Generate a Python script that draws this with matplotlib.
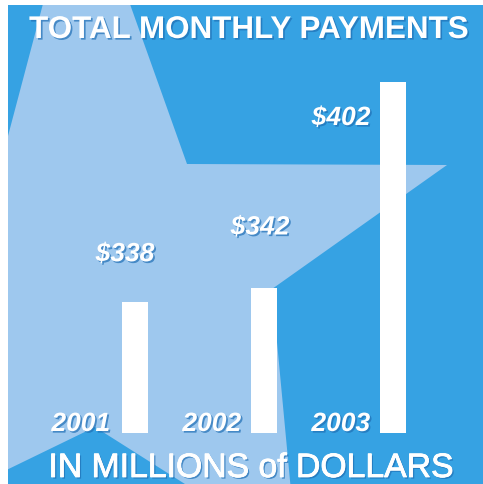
import matplotlib
matplotlib.use("Agg")
import matplotlib.pyplot as plt
import matplotlib.patheffects as pe
from matplotlib.patches import Polygon

# data
years = ["2001", "2002", "2003"]
payments = [338, 342, 402]          # millions of dollars
value_labels = ["$338", "$342", "$402"]
base = 300                          # bars start from this value

# colours
DARK = "#36a2e3"
LIGHT = "#9ec8ee"
SHADOW = "#1f6fb5"

W, H = 483, 485
plt.rcParams["font.family"] = ["Liberation Sans", "DejaVu Sans"]

fig = plt.figure(figsize=(W / 100, H / 100), dpi=100, facecolor="white")

# background panel with the big star, in pixel coordinates
bg = fig.add_axes([8 / W, 0, (W - 8) / W, (H - 6) / H])
bg.set_xlim(8, W)
bg.set_ylim(H, 6)
bg.set_facecolor(DARK)
bg.set_xticks([])
bg.set_yticks([])
for s in bg.spines.values():
    s.set_visible(False)

star_pts = [(80, -135), (187, 165), (447, 166), (272, 290), (297, 556),
            (95, 428), (-10, 479), (-10, 205)]
bg.add_patch(Polygon(star_pts, closed=True, facecolor=LIGHT, edgecolor="none"))

# bar panel
ax = fig.add_axes([8 / W, (H - 434) / H, (W - 8) / W, 351 / H])
ax.patch.set_alpha(0)
ax.axis("off")
x = list(range(len(years)))
ax.bar(x, payments, width=0.2, color="white", edgecolor="none")
ax.set_xlim(-0.984, 2.698)
ax.set_ylim(base, max(payments))

shadow = [pe.withSimplePatchShadow(offset=(1.2, -1.2), shadow_rgbFace=SHADOW, alpha=0.7)]

# year labels sit left of each bar foot
year_dx = [-25, -23, -23]
for i, lab in enumerate(years):
    ax.annotate(lab, xy=(x[i], base), xytext=(year_dx[i], 2), textcoords="offset pixels",
                ha="right", va="baseline", color="white", fontsize=19,
                fontweight="bold", fontstyle="italic", annotation_clip=False,
                path_effects=shadow)

# value labels
val_off = [(-10, 41), (-4, 54), (-52, -43)]
for i, lab in enumerate(value_labels):
    dx, dy = val_off[i]
    ax.annotate(lab, xy=(x[i], payments[i]), xytext=(dx, dy), textcoords="offset pixels",
                ha="center", va="baseline", color="white", fontsize=19,
                fontweight="bold", fontstyle="italic", annotation_clip=False,
                path_effects=shadow)

fig.text(249 / W, 1 - 39 / H, "TOTAL MONTHLY PAYMENTS", ha="center", va="baseline",
         color="white", fontsize=22.6, fontweight="bold", path_effects=shadow)
fig.text(251 / W, 1 - 478 / H, "IN MILLIONS of DOLLARS", ha="center", va="baseline",
         color="white", fontsize=24.3,
         path_effects=[pe.withSimplePatchShadow(offset=(1.2, -1.2), shadow_rgbFace=SHADOW, alpha=0.7),
                       pe.withStroke(linewidth=0.6, foreground="white")])

fig.savefig("out.png", dpi=100, facecolor="white")
